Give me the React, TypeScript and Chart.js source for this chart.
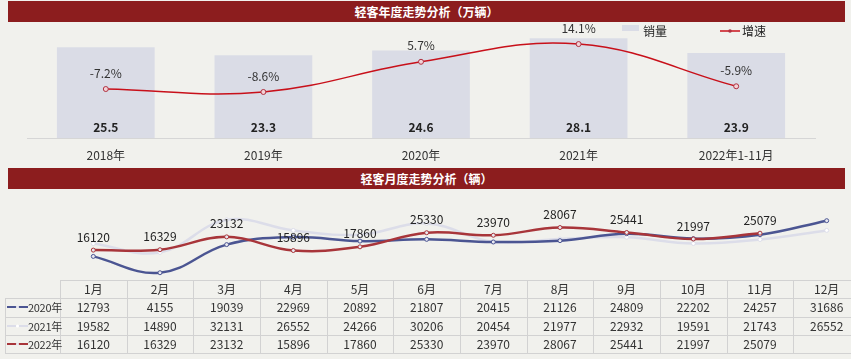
import React, { useEffect, useRef } from "react";
import { Chart, registerables } from "chart.js";
Chart.register(...registerables);

const FONT = '"Noto Sans CJK SC", "Noto Sans", sans-serif';

const years = ["2018年", "2019年", "2020年", "2021年", "2022年1-11月"];
const sales = [25.5, 23.3, 24.6, 28.1, 23.9];
const growth = [-7.2, -8.6, 5.7, 14.1, -5.9];

const months = ["1月", "2月", "3月", "4月", "5月", "6月", "7月", "8月", "9月", "10月", "11月", "12月"];
const seriesNames = ["2020年", "2021年", "2022年"];
const s2020 = [12793, 4155, 19039, 22969, 20892, 21807, 20415, 21126, 24809, 22202, 24257, 31686];
const s2021 = [19582, 14890, 32131, 26552, 24266, 30206, 20454, 21977, 22932, 19591, 21743, 26552];
const s2022 = [16120, 16329, 23132, 15896, 17860, 25330, 23970, 28067, 25441, 21997, 25079, null];
const seriesColors = ["#4b5592", "#dcdde9", "#a8353a"];

const BG = "#f1f1ed";
const RED = "#8c1d1e";
const BAR = "#dadce6";

const topLabels = {
  id: "topLabels",
  afterDatasetsDraw(chart: any) {
    const ctx = chart.ctx;
    ctx.save();
    const line = chart.getDatasetMeta(0);
    const bars = chart.getDatasetMeta(1);
    ctx.textAlign = "center";
    ctx.textBaseline = "middle";
    ctx.fillStyle = "#222";
    ctx.font = `bold 12px ${FONT}`;
    bars.data.forEach((b: any, i: number) => {
      ctx.fillText(String(sales[i]), b.x, chart.chartArea.bottom - 11);
    });
    ctx.font = `12px ${FONT}`;
    ctx.fillStyle = "#333";
    line.data.forEach((p: any, i: number) => {
      ctx.fillText(growth[i].toFixed(1) + "%", p.x, p.y - 16);
    });
    // legend
    ctx.fillStyle = BAR;
    ctx.fillRect(622, 25, 17, 6);
    ctx.fillStyle = "#222";
    ctx.textAlign = "left";
    ctx.fillText("销量", 643, 31);
    ctx.strokeStyle = "#c8101a";
    ctx.lineWidth = 1.5;
    ctx.beginPath();
    ctx.moveTo(720, 31);
    ctx.lineTo(740, 31);
    ctx.stroke();
    ctx.fillStyle = "#b03040";
    ctx.beginPath();
    ctx.arc(730, 31, 1.8, 0, Math.PI * 2);
    ctx.fill();
    ctx.fillStyle = "#222";
    ctx.fillText("增速", 742, 31);
    ctx.restore();
  },
};

const bottomLabels = {
  id: "bottomLabels",
  afterDatasetsDraw(chart: any) {
    const ctx = chart.ctx;
    ctx.save();
    const meta = chart.getDatasetMeta(2);
    ctx.textAlign = "center";
    ctx.textBaseline = "middle";
    ctx.fillStyle = "#222";
    ctx.font = `12px ${FONT}`;
    meta.data.forEach((p: any, i: number) => {
      const v = s2022[i];
      if (v == null) return;
      ctx.fillText(String(v), p.x, p.y - 13);
    });
    ctx.restore();
  },
};

function TopChart() {
  const ref = useRef<HTMLCanvasElement>(null);
  useEffect(() => {
    const chart = new Chart(ref.current!, {
      type: "bar",
      data: {
        labels: years,
        datasets: [
          {
            type: "line",
            label: "增速",
            data: growth,
            yAxisID: "y2",
            borderColor: "#c8101a",
            borderWidth: 1.5,
            tension: 0.4,
            pointRadius: 2.5,
            pointBackgroundColor: "#f2d2d6",
            pointBorderColor: "#b03040",
            pointBorderWidth: 1,
            order: 0,
            clip: false,
          } as any,
          {
            type: "bar",
            label: "销量",
            data: sales,
            yAxisID: "y",
            backgroundColor: BAR,
            barPercentage: 0.62,
            categoryPercentage: 1,
            order: 1,
          },
        ],
      },
      options: {
        responsive: false,
        animation: false,
        layout: { padding: { left: 27, right: 36, top: 20, bottom: 0 } },
        plugins: { legend: { display: false }, tooltip: { enabled: false } },
        scales: {
          x: {
            grid: { display: false, drawTicks: false },
            border: { display: true, color: "#d6d6d6" },
            ticks: { padding: 10, color: "#333", font: { size: 12, family: FONT } },
            afterFit: (s: any) => {
              s.height = 30;
            },
          },
          y: { display: false, min: 0, max: 33.2 },
          y2: { display: false, min: -30.4, max: 25.5 },
        },
      } as any,
      plugins: [topLabels],
    });
    return () => chart.destroy();
  }, []);
  return (
    <canvas
      ref={ref}
      width={851}
      height={168}
      style={{ position: "absolute", left: 0, top: 0, width: 851, height: 168 }}
    />
  );
}

function BottomChart() {
  const ref = useRef<HTMLCanvasElement>(null);
  useEffect(() => {
    const data = [s2020, s2021, s2022];
    const orders = [1, 2, 0];
    const chart = new Chart(ref.current!, {
      type: "line",
      data: {
        labels: months,
        datasets: data.map((d, i) => ({
          label: seriesNames[i],
          data: d,
          borderColor: seriesColors[i],
          borderWidth: 2.5,
          tension: 0.4,
          pointRadius: 2,
          pointBackgroundColor: i === 1 ? "#ffffff" : "#e8e8f0",
          pointBorderColor: seriesColors[i],
          pointBorderWidth: 1,
          order: orders[i],
          clip: false,
        })) as any,
      },
      options: {
        responsive: false,
        animation: false,
        layout: { padding: { left: 93.3, right: 24.3, top: 0, bottom: 8.4 } },
        plugins: { legend: { display: false }, tooltip: { enabled: false } },
        scales: {
          x: { display: false },
          y: { display: false, min: 0, max: 45800 },
        },
      } as any,
      plugins: [bottomLabels],
    });
    return () => chart.destroy();
  }, []);
  return (
    <canvas
      ref={ref}
      width={851}
      height={100}
      style={{ position: "absolute", left: 0, top: 189, width: 851, height: 100 }}
    />
  );
}

function TitleBar({ top, text }: { top: number; text: string }) {
  return (
    <div
      style={{
        position: "absolute",
        left: 8,
        top,
        width: 837,
        height: 21,
        background: RED,
        color: "#fff",
        fontFamily: FONT,
        fontWeight: "bold",
        fontSize: 12,
        lineHeight: "21px",
        textAlign: "center",
      }}
    >
      {text}
    </div>
  );
}

function DataTable() {
  const colX = (c: number) => (c === 0 ? 5 : 60 + (c - 1) * 66.67);
  const colW = (c: number) => (c === 0 ? 55 : 66.67);
  const rowY = [280, 298, 316.5, 335, 353];
  const border = "#d2d2d2";
  const cells: any[] = [];
  const rows = [s2020, s2021, s2022];
  months.forEach((m, i) => {
    cells.push(
      <div key={"h" + i} style={{ position: "absolute", left: colX(i + 1), top: rowY[0], width: colW(i + 1), height: rowY[1] - rowY[0], lineHeight: `${rowY[1] - rowY[0]}px`, textAlign: "center" }}>
        {m}
      </div>
    );
  });
  rows.forEach((r, ri) => {
    const y = rowY[ri + 1];
    const h = rowY[ri + 2] - y;
    cells.push(
      <div key={"l" + ri} style={{ position: "absolute", left: 6, top: y, width: 54, height: h, display: "flex", alignItems: "center", justifyContent: "flex-start", whiteSpace: "nowrap", overflow: "visible" }}>
        <svg width={21} height={6} style={{ flex: "none", marginLeft: 1 }}>
          <line x1={0} y1={3} x2={21} y2={3} stroke={seriesColors[ri]} strokeWidth={2} />
          <circle cx={10.5} cy={3} r={1.6} fill={ri === 1 ? "#fff" : "#e8e8f0"} />
        </svg>
        <span style={{ fontSize: 11, letterSpacing: -0.3, marginLeft: 0 }}>{seriesNames[ri]}</span>
      </div>
    );
    r.forEach((v, ci) => {
      cells.push(
        <div key={`c${ri}_${ci}`} style={{ position: "absolute", left: colX(ci + 1), top: y, width: colW(ci + 1), height: h, lineHeight: `${h}px`, textAlign: "center" }}>
          {v == null ? "" : String(v)}
        </div>
      );
    });
  });
  const lines: any[] = [];
  rowY.forEach((y, i) => {
    const x0 = i === 0 ? 60 : 5;
    lines.push(<div key={"hl" + i} style={{ position: "absolute", left: x0, top: y, width: 860 - x0, height: 1, background: border }} />);
  });
  lines.push(<div key="vl0" style={{ position: "absolute", left: 5, top: rowY[1], width: 1, height: rowY[4] - rowY[1], background: border }} />);
  for (let c = 0; c <= 12; c++) {
    const x = 60 + c * 66.67;
    lines.push(<div key={"vl" + (c + 1)} style={{ position: "absolute", left: x, top: rowY[0], width: 1, height: rowY[4] - rowY[0], background: border }} />);
  }
  return (
    <div style={{ position: "absolute", left: 0, top: 0, width: 851, height: 359, fontFamily: FONT, fontSize: 12, color: "#333" }}>
      {lines}
      {cells}
    </div>
  );
}

export default function App() {
  return (
    <div
      style={{
        position: "fixed",
        left: 0,
        top: 0,
        width: 851,
        height: 359,
        background: BG,
        overflow: "hidden",
      }}
    >
      <TopChart />
      <TitleBar top={1} text="轻客年度走势分析（万辆）" />
      <TitleBar top={168} text="轻客月度走势分析（辆）" />
      <BottomChart />
      <DataTable />
    </div>
  );
}
